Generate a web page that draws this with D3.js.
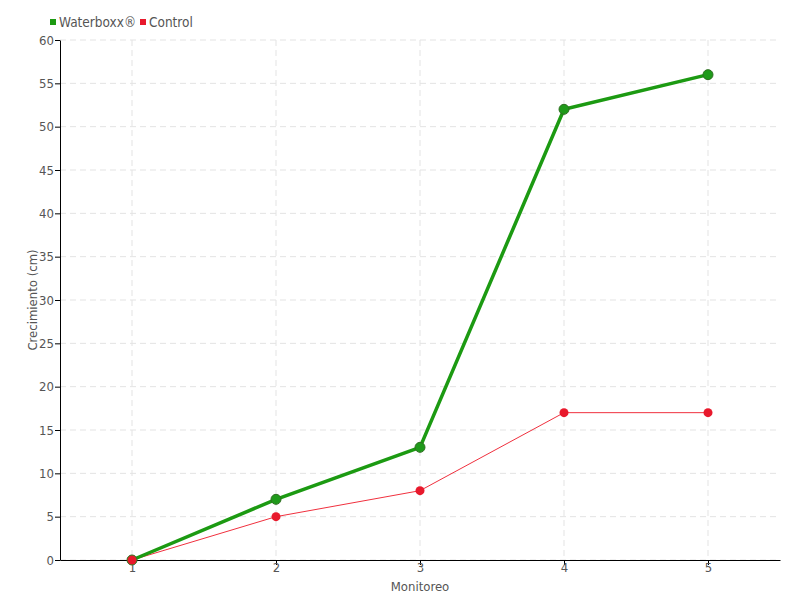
<!DOCTYPE html>
<html>
<head>
<meta charset="utf-8">
<script src="https://cdn.jsdelivr.net/npm/d3@7"></script>
<style>
  body { margin: 0; background: #fff; }
  text { font-family: "DejaVu Sans", sans-serif; font-stretch: condensed; fill: #555; }
</style>
</head>
<body>
<div id="chart"></div>
<script>
// datos
let monitoreos = [1, 2, 3, 4, 5];
let waterboxx = [0, 7, 13, 52, 56];
let control = [0, 5, 8, 17, 17];
let yTicks = [0, 5, 10, 15, 20, 25, 30, 35, 40, 45, 50, 55, 60];

let margin = {top: 40, right: 20, bottom: 40, left: 60};
let width = 800 - margin.left - margin.right,
    height = 600 - margin.top - margin.bottom;

let svg = d3.select('#chart').append('svg')
    .attr('width', 800)
    .attr('height', 600);

let chart = svg.append('g')
    .attr('transform', 'translate(' + margin.left + ',' + margin.top + ')');

let x = d3.scaleLinear().domain([0.5, 5.5]).range([0, width]);
let y = d3.scaleLinear().domain([0, 60]).range([height, 0]);

// rejilla
chart.append('g')
    .selectAll('line')
    .data(yTicks)
    .join('line')
    .attr('x1', 0).attr('x2', width)
    .attr('y1', d => y(d)).attr('y2', d => y(d))
    .attr('stroke', '#e3e3e3').attr('stroke-dasharray', '6,4');

chart.append('g')
    .selectAll('line')
    .data(monitoreos)
    .join('line')
    .attr('x1', d => x(d)).attr('x2', d => x(d))
    .attr('y1', 0).attr('y2', height)
    .attr('stroke', '#e3e3e3').attr('stroke-dasharray', '6,4');

// ejes
let xAxis = chart.append('g')
    .attr('transform', 'translate(0,' + height + ')')
    .call(d3.axisBottom(x).tickValues(monitoreos).tickSize(5).tickSizeOuter(0).tickFormat(d3.format('d')));
let yAxis = chart.append('g')
    .call(d3.axisLeft(y).tickValues(yTicks).tickSize(5).tickSizeOuter(0));

[xAxis, yAxis].forEach(function(g) {
    g.select('.domain').attr('stroke', '#000');
    g.selectAll('.tick line').attr('stroke', '#000');
    g.selectAll('.tick text').attr('font-size', 13).attr('fill', '#555')
        .attr('font-family', '"DejaVu Sans", sans-serif');
});
yAxis.selectAll('.tick text').attr('x', -6);
xAxis.selectAll('.tick text').attr('y', 3);

// lineas
let line = d3.line()
    .x((d, i) => x(monitoreos[i]))
    .y(d => y(d));

chart.append('path')
    .datum(control)
    .attr('fill', 'none')
    .attr('stroke', '#f0303e')
    .attr('stroke-width', 1)
    .attr('d', line);

chart.append('path')
    .datum(waterboxx)
    .attr('fill', 'none')
    .attr('stroke', '#1c9a12')
    .attr('stroke-width', 3.5)
    .attr('d', line);

chart.append('g')
    .selectAll('circle')
    .data(waterboxx)
    .join('circle')
    .attr('cx', (d, i) => x(monitoreos[i]))
    .attr('cy', d => y(d))
    .attr('r', 5)
    .attr('fill', '#1f9a1a')
    .attr('stroke', '#2f6f22')
    .attr('stroke-width', 1);

chart.append('g')
    .selectAll('circle')
    .data(control)
    .join('circle')
    .attr('cx', (d, i) => x(monitoreos[i]))
    .attr('cy', d => y(d))
    .attr('r', 4.5)
    .attr('fill', '#e8192c');

// titulos
svg.append('text')
    .attr('x', margin.left + x(3))
    .attr('y', 591)
    .attr('text-anchor', 'middle')
    .attr('font-size', 13)
    .text('Monitoreo');

svg.append('text')
    .attr('transform', 'translate(37,' + (margin.top + height / 2) + ') rotate(-90)')
    .attr('text-anchor', 'middle')
    .attr('font-size', 13)
    .text('Crecimiento (cm)');

// leyenda
let legend = [
    {name: 'Waterboxx®', color: '#1c9a12'},
    {name: 'Control', color: '#e8192c'}
];
let lx = [50, 140];
let lg = svg.append('g');
legend.forEach(function(d, i) {
    lg.append('rect')
        .attr('x', lx[i]).attr('y', 19)
        .attr('width', 6).attr('height', 6)
        .attr('fill', d.color);
    lg.append('text')
        .attr('x', lx[i] + 9).attr('y', 27)
        .attr('font-size', 13.5)
        .text(d.name);
});
</script>
</body>
</html>
